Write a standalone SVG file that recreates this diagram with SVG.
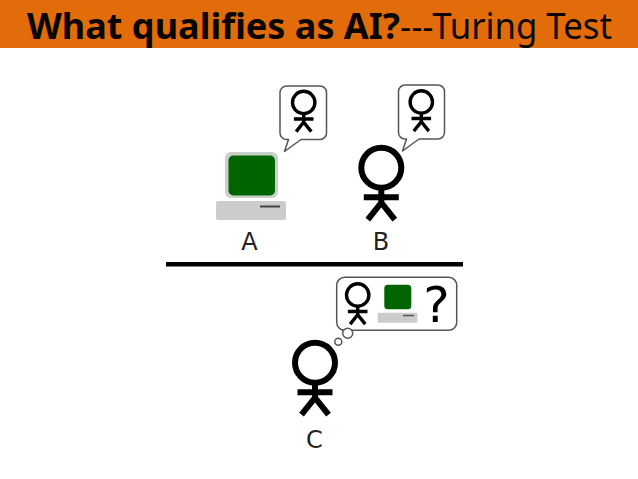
<svg xmlns="http://www.w3.org/2000/svg" width="638" height="479" viewBox="0 0 638 479">
<style>
.lbl{font-family:"DejaVu Sans",sans-serif;font-size:24px;fill:#222;text-anchor:middle}
.ttl{font-family:"Noto Sans","Open Sans",sans-serif;font-size:36px;fill:#0a0500}
.bub{fill:#fff;stroke:#555;stroke-width:1.5;stroke-linejoin:round}
.p{fill:none;stroke:#000;stroke-width:6}
</style>
<defs>
<g id="person" class="p">
<circle cx="0" cy="0" r="20"/>
<path d="M0 20V35M-17.500 29.500H17.500M-13.500 52L0 35L13.500 52"/>
</g>
<g id="pc">
<rect x="225" y="152" width="53" height="46" rx="6" fill="#c9d0c9"/>
<rect x="228.500" y="155.500" width="46.500" height="40" rx="5" fill="#006400"/>
<rect x="216" y="201" width="70" height="19" rx="2" fill="#cccccc"/>
<rect x="260" y="205.500" width="20" height="2" fill="#444"/>
</g>
</defs>
<rect id="background" width="638" height="479" fill="#fff"/>
<g id="header">
<rect width="638" height="48" fill="#e36c0a"/>
<text class="ttl" x="27" y="39" font-weight="700" textLength="373" lengthAdjust="spacingAndGlyphs">What qualifies as AI?</text>
<text class="ttl" x="400" y="39" textLength="212" lengthAdjust="spacingAndGlyphs">---Turing Test</text>
</g>
<g id="divider"><rect x="166" y="262" width="297" height="4.500" fill="#000"/></g>
<g id="node-a">
<use href="#pc"/>
<path class="bub" d="M287 86H320A6.500 6.500 0 0 1 326.500 92.500V133A6.500 6.500 0 0 1 320 139.500H301L284.500 151.500L288.500 139.500H287A6.500 6.500 0 0 1 280 133V92.500A6.500 6.500 0 0 1 287 86Z"/>
<use href="#person" transform="translate(303.700 102.500) scale(.56)"/>
<text class="lbl" x="249.500" y="249.500">A</text>
</g>
<g id="node-b">
<use href="#person" transform="translate(381.300 167.700)"/>
<path class="bub" d="M405 85H438A6.500 6.500 0 0 1 444.500 91.500V132.500A6.500 6.500 0 0 1 438 139H419L402.500 151L406.500 139H405A6.500 6.500 0 0 1 398.500 132.500V91.500A6.500 6.500 0 0 1 405 85Z"/>
<use href="#person" transform="translate(421.300 102) scale(.56)"/>
<text class="lbl" x="381" y="249.500">B</text>
</g>
<g id="node-c">
<use href="#person" transform="translate(315 362.700)"/>
<rect class="bub" x="336.700" y="277.300" width="120" height="53" rx="8"/>
<circle class="bub" cx="347.700" cy="333.300" r="5"/>
<circle class="bub" cx="338.300" cy="341.700" r="3.500"/>
<use href="#person" transform="translate(357.700 295) scale(.56)"/>
<rect x="384.300" y="284.700" width="27" height="24.600" rx="3.500" fill="#006400"/>
<rect x="377.700" y="312.700" width="39.600" height="10" rx="1" fill="#cccccc"/>
<rect x="403" y="314.800" width="11" height="1.500" fill="#555"/>
<text x="436.500" y="321.700" font-family="DejaVu Sans,sans-serif" font-size="50" fill="#000" text-anchor="middle">?</text>
<text class="lbl" x="314.500" y="447.500">C</text>
</g>
<g id="connectors"></g>
</svg>
